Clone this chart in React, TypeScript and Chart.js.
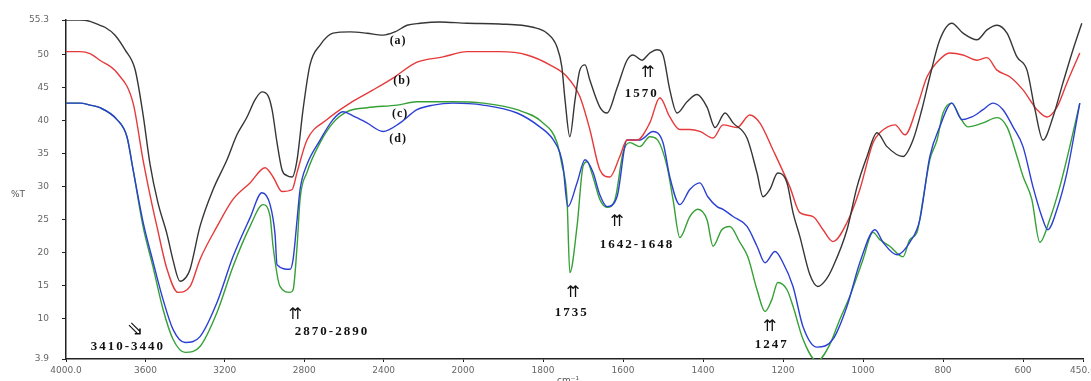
import React, { useEffect, useRef } from 'react';
import { Chart, registerables, LinearScale } from 'chart.js';

// ---- data (wavenumber cm-1, %T) ----
const xTicks = [4000, 3600, 3200, 2800, 2400, 2000, 1800, 1600, 1400, 1200, 1000, 800, 600, 450];
const yTicks = [3.9, 10, 15, 20, 25, 30, 35, 40, 45, 50, 55.3];

const seriesA = [[4000,55.3],[3929,55.3],[3879,55.1],[3829,54.5],[3804,54.2],[3753,53.0],[3703,50.8],[3652,47.8],[3612,41.0],[3577,33.5],[3537,27.6],[3491,22.8],[3461,18.9],[3426,15.7],[3395,16.3],[3375,17.5],[3325,24.0],[3259,29.6],[3189,34.1],[3139,37.9],[3088,40.6],[3048,43.2],[3013,44.4],[2982,43.8],[2962,41.7],[2937,36.7],[2912,32.6],[2887,31.7],[2861,31.5],[2836,34.1],[2806,41.7],[2771,48.5],[2720,51.5],[2655,53.3],[2569,53.5],[2484,53.3],[2403,53.0],[2343,53.5],[2282,54.5],[2217,54.8],[2116,55.0],[1990,54.8],[1908,54.7],[1825,54.2],[1790,53.3],[1765,51.2],[1753,48.2],[1745,43.2],[1733,37.6],[1720,43.2],[1708,47.7],[1695,48.5],[1683,46.2],[1658,42.1],[1640,41.2],[1615,45.0],[1590,49.2],[1575,50.0],[1553,49.2],[1533,50.3],[1515,50.8],[1500,50.0],[1483,44.7],[1465,41.2],[1440,42.9],[1415,44.0],[1390,42.1],[1370,39.0],[1345,41.2],[1325,39.7],[1290,37.4],[1265,32.1],[1250,28.5],[1233,29.6],[1213,32.1],[1190,30.6],[1175,26.1],[1158,22.5],[1133,16.7],[1113,14.9],[1093,15.9],[1075,17.9],[1040,23.5],[1015,30.0],[990,34.6],[965,38.2],[940,36.1],[900,34.6],[875,37.1],[853,41.7],[833,46.7],[808,52.3],[778,54.8],[750,53.3],[715,52.3],[690,53.8],[665,54.5],[640,53.3],[615,49.7],[590,47.7],[570,41.7],[550,37.1],[525,40.6],[500,45.8],[475,50.8],[453,54.8]];

const seriesB = [[4000,50.5],[3929,50.5],[3879,50.2],[3829,49.2],[3743,47.3],[3662,42.7],[3612,34.1],[3577,28.8],[3542,24.0],[3491,17.5],[3436,14.0],[3375,14.9],[3325,19.0],[3239,24.0],[3159,28.1],[3073,30.6],[2997,32.9],[2957,31.5],[2912,29.3],[2861,29.6],[2836,32.2],[2786,37.1],[2685,40.2],[2569,42.7],[2453,44.7],[2353,46.5],[2232,48.9],[2101,49.7],[1990,50.5],[1908,50.5],[1840,50.0],[1783,48.5],[1740,46.7],[1708,43.7],[1683,38.7],[1658,32.6],[1633,31.5],[1608,34.6],[1590,37.1],[1565,37.1],[1533,39.7],[1508,43.5],[1483,40.6],[1458,38.7],[1433,38.7],[1408,38.4],[1375,37.4],[1350,39.4],[1315,39.0],[1283,40.9],[1258,39.7],[1225,35.6],[1183,30.0],[1158,26.1],[1125,25.5],[1100,23.5],[1075,21.7],[1040,24.6],[1008,29.6],[975,36.7],[958,38.2],[920,39.4],[895,37.9],[865,42.1],[840,46.7],[815,48.9],[783,50.3],[750,50.0],[715,49.2],[690,49.6],[665,47.7],[633,46.7],[600,44.7],[565,41.7],[540,40.6],[515,42.1],[490,45.8],[458,50.3]];

const seriesC = [[4000,42.7],[3929,42.7],[3879,42.4],[3829,42.0],[3743,40.2],[3693,37.6],[3662,32.6],[3612,24.0],[3562,17.9],[3511,11.4],[3461,6.9],[3400,4.9],[3325,5.8],[3239,11.0],[3159,17.9],[3073,24.0],[3008,27.3],[2972,25.5],[2957,21.0],[2922,14.9],[2871,14.0],[2856,14.4],[2836,21.0],[2821,28.1],[2786,32.2],[2720,36.7],[2655,39.7],[2584,41.4],[2484,42.0],[2332,42.4],[2232,42.9],[2065,42.9],[1950,42.7],[1865,41.7],[1800,39.7],[1765,36.7],[1753,33.4],[1740,28.1],[1733,17.0],[1715,24.0],[1700,33.1],[1690,33.8],[1675,31.5],[1658,28.1],[1640,26.9],[1620,28.1],[1600,35.2],[1583,36.7],[1558,36.1],[1533,37.6],[1515,37.2],[1490,33.1],[1475,28.1],[1458,22.3],[1433,25.5],[1413,26.6],[1390,25.0],[1375,21.0],[1353,23.5],[1333,24.0],[1308,21.6],[1288,19.4],[1265,14.4],[1245,11.1],[1228,12.9],[1213,15.5],[1190,14.4],[1175,11.9],[1150,6.9],[1115,3.6],[1083,6.1],[1058,9.9],[1033,13.4],[1015,16.4],[1000,19.0],[975,23.1],[958,22.0],[933,21.0],[900,19.4],[883,22.0],[865,23.1],[850,28.1],[833,34.1],[815,37.1],[800,41.2],[778,42.7],[758,40.6],[738,39.1],[700,39.7],[665,40.5],[640,39.1],[615,34.6],[600,31.6],[578,28.1],[558,21.6],[533,25.1],[508,30.0],[483,36.1],[458,42.7]];

const seriesD = [[4000,42.7],[3929,42.7],[3879,42.4],[3829,42.0],[3743,40.2],[3693,37.6],[3662,32.6],[3612,24.7],[3562,18.7],[3511,12.9],[3461,8.4],[3400,6.4],[3325,7.3],[3239,12.5],[3159,19.4],[3073,25.3],[3013,29.1],[2972,27.3],[2947,22.8],[2937,18.2],[2871,17.5],[2856,19.0],[2836,25.0],[2821,29.6],[2786,33.4],[2720,37.1],[2655,40.2],[2605,41.4],[2544,40.6],[2484,39.7],[2403,38.4],[2317,39.7],[2232,41.7],[2151,42.4],[2050,42.7],[1950,42.4],[1865,41.2],[1808,39.1],[1775,37.2],[1758,35.2],[1750,33.1],[1738,27.0],[1715,30.6],[1695,34.1],[1675,32.2],[1658,28.8],[1640,27.0],[1615,28.5],[1590,37.1],[1558,37.1],[1525,38.4],[1500,36.7],[1483,31.5],[1458,27.3],[1433,29.6],[1408,30.6],[1388,28.5],[1365,27.0],[1350,26.6],[1325,25.5],[1290,24.0],[1265,21.0],[1245,18.5],[1220,20.2],[1200,18.5],[1175,14.9],[1150,8.8],[1115,5.7],[1075,6.9],[1040,11.9],[1008,18.5],[970,23.5],[950,21.6],[915,19.7],[883,21.6],[858,25.0],[833,34.6],[808,39.1],[778,42.7],[753,40.2],[728,40.6],[700,41.7],[675,42.7],[650,41.7],[625,39.1],[600,36.1],[575,30.0],[553,25.5],[538,23.5],[515,26.6],[490,32.2],[458,42.7]];

// annotation texts anchored in data units (wavenumber, %T)
const curveLabels = [
  { text: '(a)', wn: 2327, t: 52.1 },
  { text: '(b)', wn: 2307, t: 46.1 },
  { text: '(c)', wn: 2317, t: 41.1 },
  { text: '(d)', wn: 2327, t: 37.3 },
];
const bandLabels = [
  { text: '1570', wn: 1553, t: 44.2 },
  { text: '1642-1648', wn: 1565, t: 21.2 },
  { text: '1735', wn: 1728, t: 11.0 },
  { text: '1247', wn: 1228, t: 6.1 },
  { text: '2870-2890', wn: 2660, t: 8.0 },
  { text: '3410-3440', wn: 3688, t: 5.8 },
];
const arrowMarks = [
  { text: '\u21C8', wn: 1538, t: 47.3, size: 16 },
  { text: '\u21C8', wn: 1615, t: 24.7, size: 16 },
  { text: '\u21C8', wn: 1725, t: 14.0, size: 16 },
  { text: '\u21C8', wn: 1233, t: 8.8, size: 16 },
  { text: '\u21C8', wn: 2846, t: 10.6, size: 16 },
  { text: '\u21D8', wn: 3652, t: 8.3, size: 20 },
];

const X_MAX = 4000;
const X_BREAK = 2000;
const X_MIN = 450;
const SPLIT = 0.3904; // fraction of axis width used by 4000-2000 (instrument scale change)

class FtirScale extends LinearScale {
  static id = 'ftir';
  static defaults = LinearScale.defaults;
  buildTicks() {
    return xTicks.map((value) => ({ value }));
  }
  getPixelForValue(value: any) {
    if (value === null || value === undefined || isNaN(value)) return NaN;
    const d = value >= X_BREAK
      ? ((X_MAX - value) / (X_MAX - X_BREAK)) * SPLIT
      : SPLIT + ((X_BREAK - value) / (X_BREAK - X_MIN)) * (1 - SPLIT);
    return this.getPixelForDecimal(d);
  }
  getValueForPixel(pixel: number) {
    const d = this.getDecimalForPixel(pixel);
    return d <= SPLIT
      ? X_MAX - (d / SPLIT) * (X_MAX - X_BREAK)
      : X_BREAK - ((d - SPLIT) / (1 - SPLIT)) * (X_BREAK - X_MIN);
  }
}

Chart.register(...registerables, FtirScale);

const textPlugin = {
  id: 'ftirText',
  afterDatasetsDraw(chart: any) {
    const { ctx, scales } = chart;
    const xs = scales.x;
    const ys = scales.y;
    ctx.save();
    ctx.fillStyle = '#111';
    ctx.textAlign = 'center';
    ctx.textBaseline = 'middle';
    ctx.font = 'bold 12px "Liberation Serif"';
    (ctx as any).letterSpacing = '1px';
    for (const l of curveLabels) {
      ctx.fillText(l.text, xs.getPixelForValue(l.wn), ys.getPixelForValue(l.t));
    }
    ctx.font = 'bold 13px "Liberation Serif"';
    (ctx as any).letterSpacing = '2px';
    for (const l of bandLabels) {
      ctx.fillText(l.text, xs.getPixelForValue(l.wn), ys.getPixelForValue(l.t));
    }
    (ctx as any).letterSpacing = '0px';
    for (const l of arrowMarks) {
      ctx.font = l.size + 'px "DejaVu Sans"';
      ctx.fillText(l.text, xs.getPixelForValue(l.wn), ys.getPixelForValue(l.t));
    }
    // axis titles
    ctx.fillStyle = '#555';
    ctx.font = '9px "DejaVu Sans"';
    ctx.fillText('%T', 18, (chart.chartArea.top + chart.chartArea.bottom) / 2 + 5);
    ctx.textBaseline = 'top';
    ctx.fillText('cm\u207B\u00B9', 568, chart.chartArea.bottom + 17);
    ctx.restore();
  },
};

export default function App() {
  const ref = useRef<HTMLCanvasElement | null>(null);
  useEffect(() => {
    document.body.style.margin = '0';
    const canvas = ref.current;
    if (!canvas) return;
    const mk = (s: number[][]) => s.map(([x, y]) => ({ x, y }));
    const line = (label: string, s: number[][], color: string) => ({
      label,
      data: mk(s),
      borderColor: color,
      backgroundColor: color,
      borderWidth: 1.4,
      pointRadius: 0,
      fill: false,
      cubicInterpolationMode: 'monotone' as const,
    });
    const chart = new Chart(canvas, {
      type: 'line',
      data: {
        datasets: [
          line('(a)', seriesA, '#363636'),
          line('(b)', seriesB, '#e63a3a'),
          line('(d)', seriesD, '#2b3fd4'),
          line('(c)', seriesC, '#35a035'),
        ],
      },
      options: {
        animation: false,
        responsive: false,
        devicePixelRatio: 1,
        events: [],
        layout: { padding: { top: 20, right: 8, left: 0, bottom: 0 } },
        plugins: { legend: { display: false }, tooltip: { enabled: false } },
        scales: {
          x: {
            type: 'ftir' as any,
            position: 'bottom',
            min: X_MIN,
            max: X_MAX,
            border: { display: true, color: '#222', width: 1.5 },
            grid: { display: true, drawOnChartArea: false, drawTicks: true, tickLength: 3, color: '#222' },
            ticks: {
              autoSkip: false,
              maxRotation: 0,
              minRotation: 0,
              padding: 3,
              color: '#666',
              font: { family: 'DejaVu Sans', size: 9 },
              callback: (v: any) => (v === 4000 || v === 450 ? Number(v).toFixed(1) : String(v)),
            },
            afterFit: (s: any) => {
              s.height = 22;
              s.paddingLeft = 0;
              s.paddingRight = 0;
            },
          } as any,
          y: {
            type: 'linear',
            min: 3.9,
            max: 55.3,
            border: { display: true, color: '#222', width: 1.5 },
            grid: { display: true, drawOnChartArea: false, drawTicks: true, tickLength: 4, color: '#222' },
            afterBuildTicks: (s: any) => {
              s.ticks = yTicks.map((value) => ({ value }));
            },
            ticks: {
              autoSkip: false,
              padding: 13,
              color: '#666',
              font: { family: 'DejaVu Sans', size: 9 },
              callback: (v: any) => String(v),
            },
            afterFit: (s: any) => {
              s.width = 66;
              s.paddingTop = 0;
              s.paddingBottom = 0;
            },
          },
        },
      },
      plugins: [textPlugin],
    });
    return () => chart.destroy();
  }, []);
  return (
    <div style={{ width: 1091, height: 381, position: 'relative' }}>
      <canvas ref={ref} width={1091} height={381} style={{ display: 'block' }} />
    </div>
  );
}
